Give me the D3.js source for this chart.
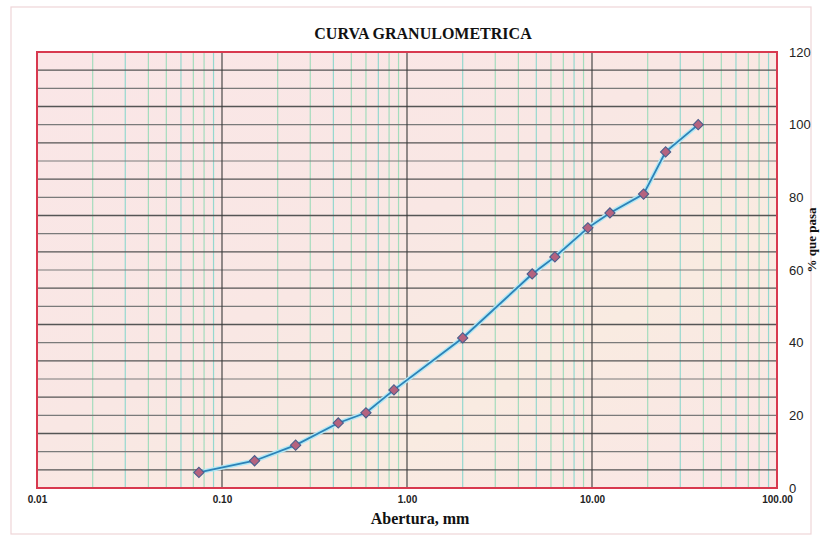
<!DOCTYPE html>
<html>
<head>
<meta charset="utf-8">
<script src="https://cdn.jsdelivr.net/npm/d3@7"></script>
<style>
  body { margin: 0; background: #fff; }
  svg { display: block; }
</style>
</head>
<body>
<svg width="820" height="537"></svg>
<script>
// tamiz (mm) y % que pasa
var aberturas = [0.075, 0.15, 0.25, 0.425, 0.6, 0.85, 2.0, 4.75, 6.3, 9.5, 12.5, 19, 25, 37.5];
var pasa = [4.3, 7.5, 11.8, 17.9, 20.7, 27.0, 41.3, 58.9, 63.6, 71.6, 75.7, 80.9, 92.5, 100];

var xTicks = [0.01, 0.1, 1, 10, 100];
var xTickLabels = ["0.01", "0.10", "1.00", "10.00", "100.00"];
var yTicks = [0, 20, 40, 60, 80, 100, 120];

var svg = d3.select("svg"),
  width = +svg.attr("width"),
  height = +svg.attr("height");

var m = {left: 37, top: 52, right: 777, bottom: 488};

var x = d3.scaleLog().domain([0.01, 100]).range([m.left, m.right]);
var y = d3.scaleLinear().domain([0, 120]).range([m.bottom, m.top]);

// marco exterior
svg.append("rect")
  .attr("x", 11).attr("y", 7).attr("width", 800).attr("height", 527)
  .attr("fill", "none").attr("stroke", "#efd5d8").attr("stroke-width", 1.2);

// fondo del area de trazado
var defs = svg.append("defs");
var grad = defs.append("linearGradient").attr("id", "bg")
  .attr("x1", "0").attr("y1", "0").attr("x2", "1").attr("y2", "1");
grad.append("stop").attr("offset", "0%").attr("stop-color", "#fae6e7");
grad.append("stop").attr("offset", "45%").attr("stop-color", "#f9e7e4");
grad.append("stop").attr("offset", "70%").attr("stop-color", "#f9ebe1");
grad.append("stop").attr("offset", "100%").attr("stop-color", "#fae6e6");

svg.append("rect")
  .attr("x", m.left).attr("y", m.top)
  .attr("width", m.right - m.left).attr("height", m.bottom - m.top)
  .attr("fill", "url(#bg)");

// rejilla vertical menor (2..9 de cada decada)
var minor = [];
[0.01, 0.1, 1, 10].forEach(function(d) {
  for (var k = 2; k <= 9; k++) minor.push(d * k);
});

svg.append("g")
  .selectAll("line")
  .data(minor)
  .enter().append("line")
  .attr("x1", function(d) { return x(d); })
  .attr("x2", function(d) { return x(d); })
  .attr("y1", m.top).attr("y2", m.bottom)
  .attr("stroke", function(d, i) { return i % 3 == 1 ? "#95d8cf" : "#a4dcbd"; })
  .attr("stroke-width", 1.2);

// rejilla horizontal cada 5 %
var hLines = d3.range(5, 120, 5);
svg.append("g")
  .selectAll("line")
  .data(hLines)
  .enter().append("line")
  .attr("x1", m.left).attr("x2", m.right)
  .attr("y1", function(d) { return y(d); })
  .attr("y2", function(d) { return y(d); })
  .attr("stroke", function(d) { return d % 10 == 5 ? "#555" : "#7a7a7a"; })
  .attr("stroke-width", function(d) { return d % 10 == 5 ? 1.4 : 1.1; });

// rejilla vertical mayor (decadas)
svg.append("g")
  .selectAll("line")
  .data([0.1, 1, 10])
  .enter().append("line")
  .attr("x1", function(d) { return x(d); })
  .attr("x2", function(d) { return x(d); })
  .attr("y1", m.top).attr("y2", m.bottom)
  .attr("stroke", "#3a3a3a").attr("stroke-width", 1.1);

// borde rojo
svg.append("rect")
  .attr("x", m.left).attr("y", m.top)
  .attr("width", m.right - m.left).attr("height", m.bottom - m.top)
  .attr("fill", "none").attr("stroke", "#d8394f").attr("stroke-width", 2);

// curva
var pts = aberturas.map(function(d, i) { return [d, pasa[i]]; });
var line = d3.line()
  .x(function(d) { return x(d[0]); })
  .y(function(d) { return y(d[1]); });

svg.append("path").datum(pts)
  .attr("d", line).attr("fill", "none")
  .attr("stroke", "#b3e8f4").attr("stroke-width", 4.5);
svg.append("path").datum(pts)
  .attr("d", line).attr("fill", "none")
  .attr("stroke", "#2c82b8").attr("stroke-width", 1.8);

// marcadores: cuadrado girado 45 grados
svg.append("g")
  .selectAll("path")
  .data(pts)
  .enter().append("path")
  .attr("d", d3.symbol().type(d3.symbolSquare).size(52))
  .attr("transform", function(d) { return "translate(" + x(d[0]) + "," + y(d[1]) + ") rotate(45)"; })
  .attr("fill", "#b5637f")
  .attr("stroke", "#4b5d8c")
  .attr("stroke-width", 1.1);

// eje x
var xAxis = d3.axisBottom(x)
  .tickValues(xTicks)
  .tickFormat(function(d, i) { return xTickLabels[i]; })
  .tickSize(0).tickPadding(8);

var gx = svg.append("g")
  .attr("transform", "translate(0," + m.bottom + ")")
  .call(xAxis);
gx.select(".domain").remove();
gx.selectAll("text")
  .attr("font-family", "Liberation Sans, Arial, sans-serif")
  .attr("font-size", 10).attr("font-weight", "bold").attr("fill", "#222");

// eje y (derecha)
var yAxis = d3.axisRight(y).tickValues(yTicks).tickSize(0).tickPadding(12);
var gy = svg.append("g")
  .attr("transform", "translate(" + m.right + ",0)")
  .call(yAxis);
gy.select(".domain").remove();
gy.selectAll("text")
  .attr("font-family", "Liberation Sans, Arial, sans-serif")
  .attr("font-size", 13).attr("fill", "#222");

// titulos
svg.append("text")
  .attr("x", 423).attr("y", 39)
  .attr("text-anchor", "middle")
  .attr("font-family", "Liberation Serif, Times New Roman, serif")
  .attr("font-size", 16).attr("font-weight", "bold").attr("fill", "#111")
  .text("CURVA GRANULOMETRICA");

svg.append("text")
  .attr("x", 420).attr("y", 524)
  .attr("text-anchor", "middle")
  .attr("font-family", "Liberation Serif, Times New Roman, serif")
  .attr("font-size", 16).attr("font-weight", "bold").attr("fill", "#111")
  .text("Abertura, mm");

svg.append("text")
  .attr("transform", "translate(816,240) rotate(-90)")
  .attr("text-anchor", "middle")
  .attr("font-family", "Liberation Serif, Times New Roman, serif")
  .attr("font-size", 13).attr("font-weight", "bold").attr("fill", "#111")
  .text("% que pasa");
</script>
</body>
</html>
